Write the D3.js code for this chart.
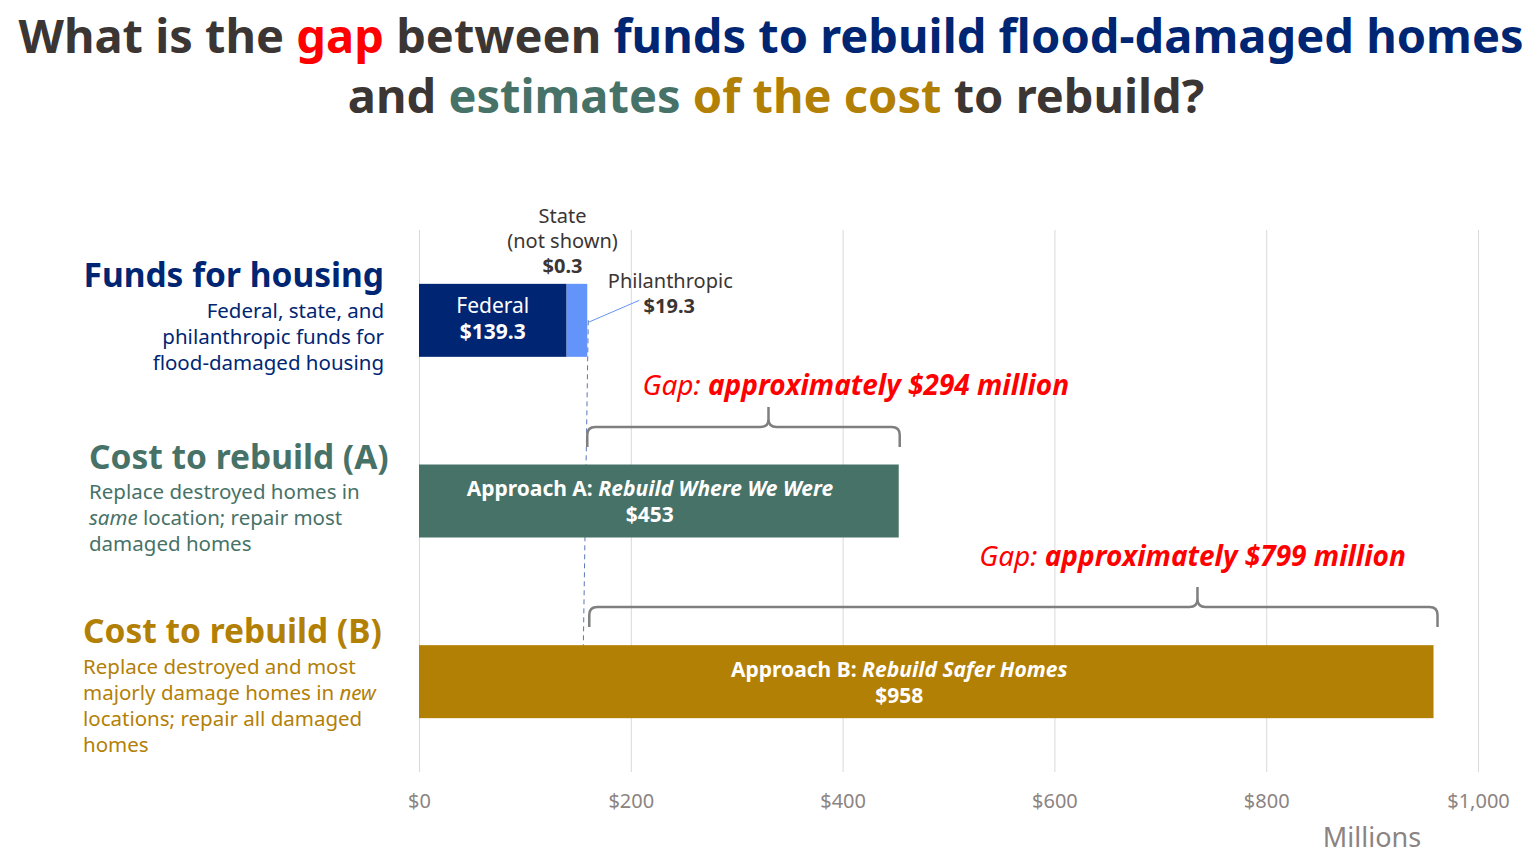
<!DOCTYPE html>
<html>
<head>
<meta charset="utf-8">
<script src="https://cdn.jsdelivr.net/npm/d3@7"></script>
<style>
  body { margin: 0; background: #fff; }
  svg { display: block; font-family: "Noto Sans", "Open Sans", sans-serif; }
</style>
</head>
<body>
<div class="chart"></div>
<script>
// data (millions of dollars)
const fundNames = ["Federal", "State", "Philanthropic"];
const fundValues = [139.3, 0.3, 19.3];
const rows = ["funds", "costA", "costB"];
const costNames = ["Approach A: ", "Approach B: "];
const costItalic = ["Rebuild Where We Were", "Rebuild Safer Homes"];
const costValues = [453, 958];
const gapValues = [294, 799];
const tickValues = [0, 200, 400, 600, 800, 1000];
const tickLabels = ["$0", "$200", "$400", "$600", "$800", "$1,000"];

const navy = "#002673", blueLight = "#6394fa", teal = "#477268", gold = "#b38006",
      red = "#ff0000", dark = "#3b3534", grey = "#8c8482";

const W = 1538, H = 858;
const svg = d3.select("div.chart").append("svg")
    .attr("width", W)
    .attr("height", H);

const x = d3.scaleLinear().domain([0, 1000]).range([419, 1478]);
const y = d3.scalePoint().domain(rows).range([230, 772]).padding(0.5);
const barH = 73;

// title
const title = svg.append("g").attr("font-weight", 700).attr("font-size", 47).attr("text-anchor", "middle");
const t1 = title.append("text").attr("x", 771).attr("y", 53).attr("fill", dark);
[["What is the ", dark], ["gap", red], [" between ", dark], ["funds to rebuild flood-damaged homes", navy]]
  .forEach(p => t1.append("tspan").attr("fill", p[1]).text(p[0]));
const t2 = title.append("text").attr("x", 776).attr("y", 113).attr("fill", dark);
[["and ", dark], ["estimates ", teal], ["of the cost", gold], [" to rebuild?", dark]]
  .forEach(p => t2.append("tspan").attr("fill", p[1]).text(p[0]));

// gridlines + axis
const axis = d3.axisBottom(x).tickValues(tickValues).tickFormat((d, i) => tickLabels[i])
    .tickSize(-(772 - 230)).tickPadding(22);
const ax = svg.append("g").attr("transform", "translate(0,772)").call(axis)
    .attr("font-family", null);
ax.select(".domain").remove();
ax.selectAll(".tick line").attr("stroke", "#d9d9d9").attr("stroke-width", 1);
ax.selectAll(".tick text").attr("fill", grey).attr("font-size", 20);

svg.append("text").attr("x", 1372).attr("y", 847).attr("text-anchor", "middle")
  .attr("fill", grey).attr("font-size", 27).text("Millions");

// stacked funds bar
let acc = 0;
const stack = fundValues.map((v, i) => { const s = {name: fundNames[i], x0: acc, x1: acc + v}; acc += v; return s; });
const fundsTotal = acc;
const fundColors = [navy, "#4d6fd0", blueLight];
svg.append("g").selectAll("rect").data(stack).join("rect")
    .attr("x", d => x(d.x0))
    .attr("width", d => x(d.x1) - x(d.x0))
    .attr("y", y("funds") - barH / 2)
    .attr("height", barH)
    .attr("fill", (d, i) => fundColors[i]);

// dashed reference line at end of funds
svg.append("line")
    .attr("x1", x(fundsTotal) + 1).attr("y1", y("funds"))
    .attr("x2", x(fundsTotal) - 5).attr("y2", y("costB") + barH / 2 - 3)
    .attr("stroke", "#5a76b8").attr("stroke-width", 1).attr("stroke-dasharray", "5,4");

// cost bars
const costRows = ["costA", "costB"];
const costColors = [teal, gold];
svg.append("g").selectAll("rect").data(costValues).join("rect")
    .attr("x", x(0))
    .attr("width", d => x(d) - x(0))
    .attr("y", (d, i) => y(costRows[i]) - barH / 2)
    .attr("height", barH)
    .attr("fill", (d, i) => costColors[i]);

// labels inside bars
const fed = stack[0];
const fedX = (x(fed.x0) + x(fed.x1)) / 2;
svg.append("text").attr("x", fedX).attr("y", y("funds") - 7).attr("text-anchor", "middle")
  .attr("fill", "#fff").attr("font-size", 21).text(fed.name);
svg.append("text").attr("x", fedX).attr("y", y("funds") + 19).attr("text-anchor", "middle")
  .attr("fill", "#fff").attr("font-size", 21).attr("font-weight", 700).text("$" + fed.x1.toFixed(1));

costValues.forEach((v, i) => {
  const cx = (x(0) + x(v)) / 2 + (i === 0 ? -9 : -27);
  const cy = y(costRows[i]);
  const t = svg.append("text").attr("x", cx).attr("y", cy - 5).attr("text-anchor", "middle")
    .attr("fill", "#fff").attr("font-size", 21).attr("font-weight", 700);
  t.append("tspan").text(costNames[i]);
  t.append("tspan").attr("font-style", "italic").text(costItalic[i]);
  svg.append("text").attr("x", cx).attr("y", cy + 21).attr("text-anchor", "middle")
    .attr("fill", "#fff").attr("font-size", 21).attr("font-weight", 700).text("$" + v);
});

// state label above bar
const st = stack[1];
const stX = x(st.x0) - 4;
[["State", 400, 223], ["(not shown)", 400, 248]].forEach(l =>
  svg.append("text").attr("x", stX).attr("y", l[2]).attr("text-anchor", "middle")
    .attr("fill", dark).attr("font-size", 20).attr("font-weight", l[1]).text(l[0]));
svg.append("text").attr("x", stX).attr("y", 273).attr("text-anchor", "middle")
  .attr("fill", dark).attr("font-size", 20).attr("font-weight", 700).text("$" + (st.x1 - st.x0).toFixed(1));

// philanthropic label with leader line
const ph = stack[2];
const phX = x(ph.x1) + 83;
svg.append("text").attr("x", phX).attr("y", 288).attr("text-anchor", "middle")
  .attr("fill", dark).attr("font-size", 20).text(ph.name);
svg.append("text").attr("x", phX - 1).attr("y", 313).attr("text-anchor", "middle")
  .attr("fill", dark).attr("font-size", 20).attr("font-weight", 700).text("$" + (ph.x1 - ph.x0).toFixed(1));
svg.append("line").attr("x1", x(ph.x1) + 1).attr("y1", y("funds") + 2)
  .attr("x2", x(ph.x1) + 52).attr("y2", y("funds") - 20)
  .attr("stroke", blueLight).attr("stroke-width", 1);

// gap braces
function brace(x0, x1, yLine, peakFrac) {
  const xm = x0 + (x1 - x0) * peakFrac;
  const r = 8, tip = 20, pk = 20;
  return `M${x0},${yLine + tip} L${x0},${yLine + r} Q${x0},${yLine} ${x0 + r},${yLine}
    L${xm - r},${yLine} Q${xm},${yLine} ${xm},${yLine - r} L${xm},${yLine - pk}
    M${xm},${yLine - r} Q${xm},${yLine} ${xm + r},${yLine}
    L${x1 - r},${yLine} Q${x1},${yLine} ${x1},${yLine + r} L${x1},${yLine + tip}`;
}
const braceY = [427, 607];
const braceRight = [x(costValues[0]) + 1, x(costValues[1]) + 4];
const braceLeft = [x(fundsTotal), x(fundsTotal) + 2];
const peakFrac = [0.58, 0.717];
const labelX = [x(211), x(529)];
const labelY = [395, 566];
gapValues.forEach((g, i) => {
  svg.append("path").attr("d", brace(braceLeft[i], braceRight[i], braceY[i], peakFrac[i]))
    .attr("fill", "none").attr("stroke", "#7f7f7f").attr("stroke-width", 2.5);
  const t = svg.append("text").attr("x", labelX[i]).attr("y", labelY[i])
    .attr("fill", red).attr("font-size", 28).attr("font-style", "italic");
  t.append("tspan").text("Gap: ");
  t.append("tspan").attr("font-weight", 700).text(`approximately $${g} million`);
});

// row headings on the left
const heads = [
  {row: "funds", text: "Funds for housing", color: navy, anchor: "end", x: 384, y: 287,
   lines: [["Federal, state, and"], ["philanthropic funds for"], ["flood-damaged housing"]], ly: 318},
  {row: "costA", text: "Cost to rebuild (A)", color: teal, anchor: "start", x: 89, y: 469,
   lines: [["Replace destroyed homes in"], ["same", " location; repair most"], ["damaged homes"]], ly: 499},
  {row: "costB", text: "Cost to rebuild (B)", color: gold, anchor: "start", x: 83, y: 643,
   lines: [["Replace destroyed and most"], ["majorly damage homes in ", "new"], ["locations; repair all damaged"], ["homes"]], ly: 674}
];
heads.forEach(h => {
  svg.append("text").attr("x", h.x).attr("y", h.y).attr("text-anchor", h.anchor)
    .attr("fill", h.color).attr("font-size", 33.5).attr("font-weight", 700).text(h.text);
  h.lines.forEach((parts, j) => {
    const t = svg.append("text").attr("x", h.x).attr("y", h.ly + j * 26).attr("text-anchor", h.anchor)
      .attr("fill", h.color).attr("font-size", 20.5);
    parts.forEach(p => {
      const it = p === "same" || p === "new";
      t.append("tspan").attr("font-style", it ? "italic" : null).text(p);
    });
  });
});
</script>
</body>
</html>
